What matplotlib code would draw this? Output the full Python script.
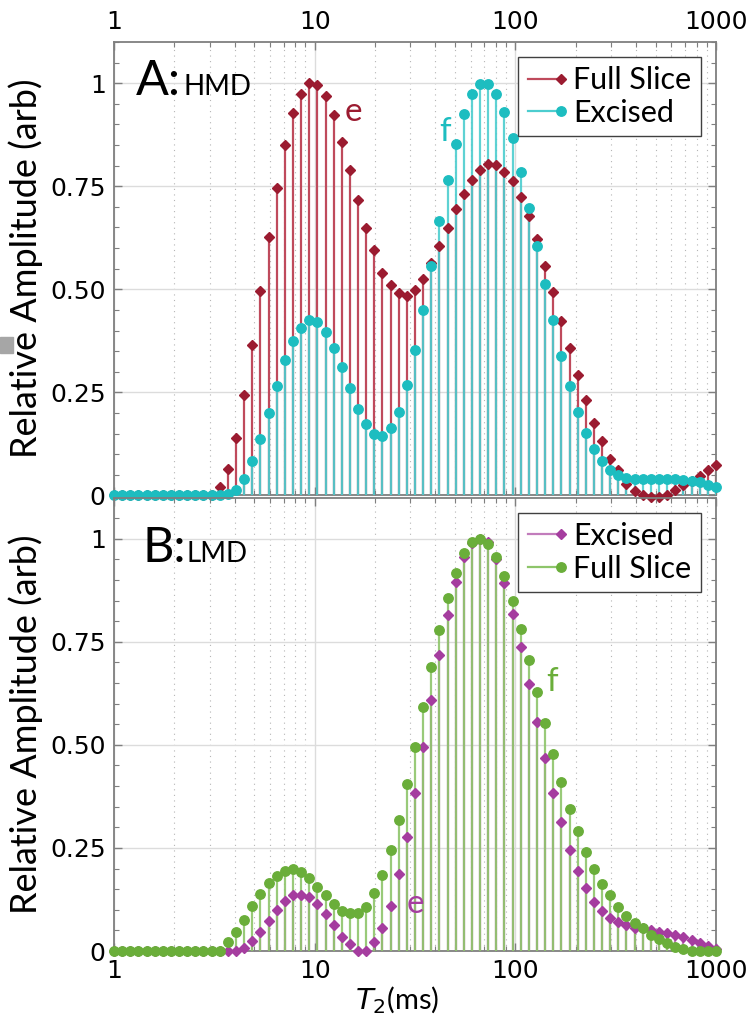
import numpy as np
import matplotlib
matplotlib.use("Agg")
import matplotlib.pyplot as plt
from matplotlib.lines import Line2D
from matplotlib.legend_handler import HandlerBase
from matplotlib.patches import Rectangle
from matplotlib.ticker import MultipleLocator, LogLocator, NullFormatter

# T2 grid: 75 log-spaced relaxation times from 1 ms to 1000 ms
t2 = np.logspace(0, 3, 75)

# panel A (HMD)
hmd_full = [
    0, 0, 0, 0, 0, 0, 0, 0, 0, 0,
    0, 0, 0, 0.02, 0.063, 0.14, 0.243, 0.366, 0.496, 0.628,
    0.746, 0.85, 0.928, 0.975, 1.0, 0.995, 0.968, 0.924, 0.857, 0.79,
    0.716, 0.649, 0.595, 0.54, 0.51, 0.491, 0.485, 0.499, 0.526, 0.565,
    0.605, 0.649, 0.694, 0.732, 0.766, 0.79, 0.805, 0.801, 0.785, 0.762,
    0.723, 0.677, 0.621, 0.556, 0.494, 0.422, 0.358, 0.291, 0.232, 0.176,
    0.131, 0.089, 0.061, 0.028, 0.012, 0.0, -0.004, -0.004, 0.0, 0.014,
    0.025, 0.035, 0.046, 0.061, 0.075]
hmd_excised = [
    0, 0, 0, 0, 0, 0, 0, 0, 0, 0,
    0, 0, 0, 0, 0.003, 0.014, 0.04, 0.083, 0.138, 0.2,
    0.265, 0.328, 0.374, 0.406, 0.425, 0.421, 0.396, 0.358, 0.311, 0.261,
    0.21, 0.174, 0.148, 0.144, 0.163, 0.202, 0.269, 0.352, 0.449, 0.556,
    0.665, 0.765, 0.852, 0.926, 0.975, 0.999, 0.999, 0.975, 0.929, 0.867,
    0.785, 0.697, 0.605, 0.512, 0.425, 0.338, 0.265, 0.202, 0.152, 0.113,
    0.083, 0.062, 0.049, 0.043, 0.04, 0.04, 0.04, 0.04, 0.04, 0.04,
    0.038, 0.036, 0.033, 0.026, 0.02]

# panel B (LMD)
lmd_excised = [
    0, 0, 0, 0, 0, 0, 0, 0, 0, 0,
    0, 0, 0, 0, 0, 0, 0.007, 0.024, 0.047, 0.073,
    0.099, 0.122, 0.136, 0.137, 0.131, 0.113, 0.09, 0.063, 0.035, 0.017,
    0.0, 0.0, 0.023, 0.055, 0.11, 0.186, 0.277, 0.384, 0.496, 0.609,
    0.719, 0.816, 0.896, 0.955, 0.989, 1.0, 0.991, 0.951, 0.892, 0.818,
    0.737, 0.648, 0.555, 0.467, 0.384, 0.313, 0.246, 0.194, 0.152, 0.118,
    0.097, 0.081, 0.071, 0.063, 0.057, 0.055, 0.051, 0.047, 0.044, 0.039,
    0.033, 0.027, 0.019, 0.012, 0.004]
lmd_full = [
    0, 0, 0, 0, 0, 0, 0, 0, 0, 0,
    0, 0, 0, 0.0, 0.023, 0.045, 0.075, 0.11, 0.138, 0.164,
    0.182, 0.194, 0.198, 0.192, 0.178, 0.156, 0.136, 0.114, 0.097, 0.091,
    0.091, 0.107, 0.14, 0.184, 0.245, 0.317, 0.404, 0.496, 0.593, 0.688,
    0.779, 0.856, 0.918, 0.965, 0.993, 1.0, 0.987, 0.956, 0.91, 0.85,
    0.781, 0.705, 0.628, 0.554, 0.479, 0.41, 0.345, 0.29, 0.24, 0.2,
    0.162, 0.136, 0.107, 0.085, 0.069, 0.055, 0.04, 0.028, 0.019, 0.009,
    0.004, 0.0, 0.0, 0.0, 0.0]

ytick_vals = [0, 0.25, 0.5, 0.75, 1]
ytick_text = ["0", "0.25", "0.50", "0.75", "1"]
xtick_vals = [1, 10, 100, 1000]
xtick_text = ["1", "10", "100", "1000"]

RED, RED_STEM = "#9b1b30", "#bf4a5c"
CYAN, CYAN_STEM = "#1dbdc0", "#4ccdcf"
PURPLE, PURPLE_STEM = "#a53d9f", "#c27cbc"
GREEN, GREEN_STEM = "#6aae3a", "#8ec56a"
LAB_FONT = ["Lato", "DejaVu Sans"]


class EndMarkerHandler(HandlerBase):
    # legend entry: short line with the marker sitting at its right end
    def create_artists(self, legend, orig_handle, xdescent, ydescent,
                       width, height, fontsize, trans):
        y = height / 2 - ydescent
        x0, x1 = -xdescent, width - xdescent
        line = Line2D([x0, x1], [y, y], color=orig_handle.get_color(),
                      lw=orig_handle.get_linewidth(), transform=trans)
        mark = Line2D([x1], [y], ls="none", marker=orig_handle.get_marker(),
                      ms=orig_handle.get_markersize(),
                      color=orig_handle.get_markerfacecolor(), transform=trans)
        return [line, mark]


def style_axes(ax):
    ax.set_facecolor("none")
    ax.set_xscale("log")
    ax.set_xlim(1, 1000)
    ax.set_ylim(0, 1.1)
    ax.set_xticks(xtick_vals, xtick_text)
    ax.xaxis.set_minor_locator(LogLocator(base=10, subs=range(2, 10)))
    ax.xaxis.set_minor_formatter(NullFormatter())
    ax.set_yticks(ytick_vals, ytick_text)
    ax.yaxis.set_minor_locator(MultipleLocator(0.05))
    ax.grid(which="major", color="#dcdcdc", lw=1.0, ls="-", zorder=0)
    ax.grid(which="minor", axis="x", color="#b5b5b5", lw=0.8,
            ls=(0, (1, 4)), zorder=0)
    ax.set_axisbelow(True)
    for sp in ax.spines.values():
        sp.set_color("#7f7f7f")
        sp.set_linewidth(1.3)
    ax.tick_params(which="both", direction="in", top=True, bottom=True,
                   left=True, right=True, color="#7f7f7f", labelsize=18,
                   labelcolor="black")
    ax.tick_params(which="major", length=6, width=1.0, pad=6)
    ax.tick_params(which="minor", length=3.5, width=0.8)
    ax.set_ylabel("Relative Amplitude (arb)", fontsize=26, family=LAB_FONT,
                  labelpad=5)


def draw_series(ax, back, front, back_style, front_style):
    ax.vlines(t2, 0, back, colors=back_style[1], lw=1.6, zorder=2)
    ax.vlines(t2, 0, front, colors=front_style[1], lw=1.6, alpha=0.9, zorder=3)
    ax.plot(t2, back, ls="none", marker=back_style[2], ms=back_style[3],
            color=back_style[0], clip_on=False, zorder=4)
    ax.plot(t2, front, ls="none", marker=front_style[2], ms=front_style[3],
            color=front_style[0], clip_on=False, zorder=5)


fig = plt.figure(figsize=(7.49, 10.29), dpi=100)
ax1 = fig.add_axes([0.1522, 0.5185, 0.8037, 0.4407])
ax2 = fig.add_axes([0.1522, 0.0758, 0.8037, 0.4407])

for ax in (ax1, ax2):
    style_axes(ax)

ax1.tick_params(axis="x", which="both", labeltop=True, labelbottom=False)
ax2.tick_params(axis="x", which="both", labeltop=False, labelbottom=True)

red_style = (RED, RED_STEM, "D", 5.5)
cyan_style = (CYAN, CYAN_STEM, "o", 6.8)
purple_style = (PURPLE, PURPLE_STEM, "D", 5.5)
green_style = (GREEN, GREEN_STEM, "o", 6.8)

draw_series(ax1, hmd_full, hmd_excised, red_style, cyan_style)
draw_series(ax2, lmd_excised, lmd_full, purple_style, green_style)

handler = EndMarkerHandler()
leg_kw = dict(loc="upper right", frameon=True, fancybox=False,
              framealpha=1, edgecolor="#404040", handlelength=1.1,
              handletextpad=0.4, labelspacing=0.15, borderpad=0.3,
              borderaxespad=0.5, prop={"family": LAB_FONT, "size": 22})

h_red = Line2D([], [], color=RED_STEM, lw=1.6, marker="D", ms=5.5,
               markerfacecolor=RED)
h_cyan = Line2D([], [], color=CYAN_STEM, lw=1.6, marker="o", ms=6.8,
                markerfacecolor=CYAN)
leg1 = ax1.legend([h_red, h_cyan], ["Full Slice", "Excised"],
                  handler_map={Line2D: handler}, **leg_kw)
leg1.get_frame().set_linewidth(1.0)

h_purple = Line2D([], [], color=PURPLE_STEM, lw=1.6, marker="D", ms=5.5,
                  markerfacecolor=PURPLE)
h_green = Line2D([], [], color=GREEN_STEM, lw=1.6, marker="o", ms=6.8,
                 markerfacecolor=GREEN)
leg2 = ax2.legend([h_purple, h_green], ["Excised", "Full Slice"],
                  handler_map={Line2D: handler}, **leg_kw)
leg2.get_frame().set_linewidth(1.0)

# panel titles
ax1.text(0.036, 0.883, "A:", transform=ax1.transAxes, fontsize=35,
         family=LAB_FONT, va="baseline", ha="left")
ax1.text(0.116, 0.883, "HMD", transform=ax1.transAxes, fontsize=20,
         family=LAB_FONT, va="baseline", ha="left")
ax2.text(0.048, 0.857, "B:", transform=ax2.transAxes, fontsize=35,
         family=LAB_FONT, va="baseline", ha="left")
ax2.text(0.121, 0.857, "LMD", transform=ax2.transAxes, fontsize=20,
         family=LAB_FONT, va="baseline", ha="left")

# peak labels
ax1.text(15.6, 0.93, "e", color=RED, fontsize=24, family=LAB_FONT,
         ha="center", va="center")
ax1.text(44.7, 0.882, "f", color=CYAN, fontsize=24, family=LAB_FONT,
         ha="center", va="center")
ax2.text(153, 0.652, "f", color=GREEN, fontsize=24, family=LAB_FONT,
         ha="center", va="center")
ax2.text(31.6, 0.115, "e", color=PURPLE, fontsize=24, family=LAB_FONT,
         ha="center", va="center")

fig.text(397 / 749, 1 - 1000 / 1029, r"$T_{\mathit{2}}$(ms)", fontsize=21,
         family=LAB_FONT, ha="center", va="center")

# small grey block at the left edge
fig.patches.append(Rectangle((0, 1 - 353 / 1029), 13 / 749, 16 / 1029,
                             transform=fig.transFigure, color="#a6a6a6"))

fig.savefig("out.png", dpi=100)
